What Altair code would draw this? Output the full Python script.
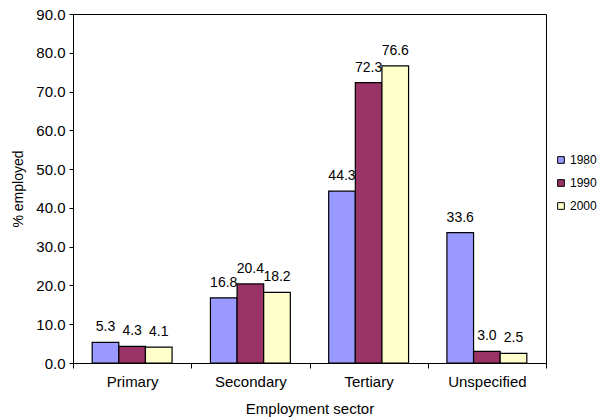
import altair as alt
import pandas as pd

sectors = ["Primary", "Secondary", "Tertiary", "Unspecified"]
years = ["1980", "1990", "2000"]
v1980 = [5.3, 16.8, 44.3, 33.6]
v1990 = [4.3, 20.4, 72.3, 3.0]
v2000 = [4.1, 18.2, 76.6, 2.5]
colors = ["#9999FF", "#993366", "#FFFFCC"]

rows = []
for i, s in enumerate(sectors):
    for y, vals in zip(years, [v1980, v1990, v2000]):
        rows.append({"sector": s, "year": y, "value": vals[i]})
df = pd.DataFrame(rows)

FONT = "Liberation Sans"
FS = 15

x = alt.X("sector:N", sort=sectors, title="Employment sector",
          scale=alt.Scale(paddingInner=0, paddingOuter=0),
          axis=alt.Axis(labelAngle=0, tickBand="extent", labelFontSize=FS,
                        titleFontSize=FS, titleFontWeight="normal", labelPadding=6,
                        titlePadding=12, tickSize=5, domainColor="black",
                        tickColor="black", labelColor="black", titleColor="black",
                        labelFont=FONT, titleFont=FONT))
xo = alt.XOffset("year:N", sort=years, scale=alt.Scale(paddingOuter=0.72, paddingInner=0))
y = alt.Y("value:Q", title="% employed",
          scale=alt.Scale(domain=[0, 90], nice=False),
          axis=alt.Axis(values=list(range(0, 91, 10)), format=".1f", grid=False,
                        labelOverlap=False, labelFontSize=FS, titleFontSize=FS - 1,
                        titleFontWeight="normal", tickSize=4, domainColor="black",
                        tickColor="black", labelColor="black", titleColor="black",
                        titlePadding=10, labelFont=FONT, titleFont=FONT,
                        labelBound=False, labelFlush=False, labelPadding=4))

base = alt.Chart(df)
bars = base.mark_bar(stroke="black", strokeWidth=1.2).encode(
    x=x, xOffset=xo, y=y,
    color=alt.Color("year:N", sort=years, title=None,
                    scale=alt.Scale(domain=years, range=colors),
                    legend=alt.Legend(orient="none", legendX=482, legendY=140,
                                      symbolType="square", symbolSize=45,
                                      symbolStrokeColor="black", symbolStrokeWidth=1,
                                      labelFontSize=12, rowPadding=11, labelOffset=3,
                                      labelColor="black", labelFont=FONT)),
)
labels = base.mark_text(baseline="alphabetic", dy=-11, fontSize=14, font=FONT, color="black").encode(
    x=x, xOffset=xo, y=y,
    text=alt.Text("value:Q", format=".1f"),
)

chart = (bars + labels).properties(
    width=473, height=349,
    padding={"left": 73, "top": 14, "right": 68, "bottom": 55},
    autosize=alt.AutoSizeParams(type="none"),
).configure(font=FONT).configure_view(stroke="black", strokeWidth=1)

chart.save("out.html", embed_options={"renderer": "svg", "actions": False})
